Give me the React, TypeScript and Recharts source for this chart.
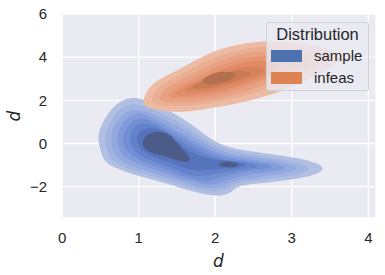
import { ScatterChart, Scatter, XAxis, YAxis, CartesianGrid, Legend, Curve } from 'recharts';

const xTicks = [0, 1, 2, 3, 4];
const yTicks = [-2, 0, 2, 4, 6];

// kde contour levels, outer -> inner, [x, y] in data units
const sampleLevels = [
  [[0.80, 2.10], [1.02, 2.15], [1.35, 1.62], [1.67, 0.97], [1.87, 0.37], [2.13, -0.19], [2.59, -0.42], [3.11, -0.68], [3.30, -0.87], [3.44, -1.11], [3.35, -1.40], [3.11, -1.63], [2.68, -1.81], [2.29, -1.94], [2.24, -2.20], [2.07, -2.52], [1.67, -2.20], [1.24, -1.72], [0.98, -1.49], [0.79, -1.26], [0.58, -0.94], [0.53, -0.65], [0.46, 0.14], [0.49, 0.74], [0.62, 1.55]],
  [[0.82, 1.81], [1.02, 1.85], [1.32, 1.39], [1.63, 0.79], [1.84, 0.23], [2.13, -0.32], [2.56, -0.56], [3.05, -0.83], [3.26, -1.11], [3.18, -1.34], [2.98, -1.53], [2.61, -1.67], [2.29, -1.81], [2.17, -2.08], [2.00, -2.31], [1.67, -2.04], [1.25, -1.57], [0.99, -1.34], [0.82, -1.11], [0.64, -0.79], [0.60, -0.51], [0.55, 0.14], [0.58, 0.69], [0.68, 1.34]],
  [[0.86, 1.57], [1.05, 1.57], [1.31, 1.16], [1.61, 0.60], [1.82, 0.09], [2.12, -0.46], [2.52, -0.65], [2.92, -0.88], [3.10, -1.11], [3.02, -1.30], [2.78, -1.44], [2.52, -1.57], [2.26, -1.71], [2.13, -1.94], [1.96, -2.13], [1.67, -1.90], [1.28, -1.44], [1.02, -1.20], [0.86, -0.97], [0.71, -0.65], [0.67, -0.37], [0.63, 0.14], [0.65, 0.65], [0.75, 1.20]],
  [[0.92, 1.39], [1.07, 1.39], [1.31, 0.97], [1.58, 0.42], [1.80, -0.05], [2.09, -0.56], [2.46, -0.74], [2.78, -0.93], [2.95, -1.11], [2.85, -1.25], [2.61, -1.34], [2.39, -1.48], [2.20, -1.62], [2.07, -1.81], [1.91, -1.94], [1.67, -1.76], [1.31, -1.30], [1.06, -1.06], [0.92, -0.83], [0.78, -0.56], [0.75, -0.28], [0.71, 0.14], [0.73, 0.60], [0.81, 1.06]],
  [[0.97, 1.16], [1.11, 1.16], [1.31, 0.79], [1.56, 0.28], [1.78, -0.19], [2.07, -0.65], [2.39, -0.79], [2.63, -0.93], [2.77, -1.06], [2.67, -1.20], [2.46, -1.25], [2.27, -1.39], [2.12, -1.53], [1.99, -1.67], [1.86, -1.76], [1.66, -1.62], [1.33, -1.16], [1.10, -0.93], [0.97, -0.69], [0.86, -0.42], [0.82, -0.19], [0.78, 0.14], [0.81, 0.56], [0.88, 0.93]],
  [[1.02, 0.93], [1.15, 0.93], [1.32, 0.65], [1.53, 0.14], [1.74, -0.32], [2.03, -0.74], [2.30, -0.83], [2.48, -0.93], [2.58, -1.06], [2.48, -1.16], [2.33, -1.20], [2.17, -1.30], [2.04, -1.39], [1.91, -1.48], [1.79, -1.53], [1.63, -1.44], [1.35, -1.02], [1.14, -0.79], [1.02, -0.56], [0.93, -0.28], [0.90, -0.05], [0.88, 0.23], [0.90, 0.56], [0.95, 0.79]],
  [[1.07, 0.69], [1.20, 0.74], [1.35, 0.51], [1.50, 0.05], [1.67, -0.42], [1.93, -0.74], [2.17, -0.79], [2.35, -0.88], [2.43, -1.02], [2.33, -1.11], [2.17, -1.16], [2.00, -1.20], [1.86, -1.25], [1.74, -1.25], [1.59, -1.16], [1.39, -0.83], [1.19, -0.65], [1.08, -0.42], [1.01, -0.19], [0.98, 0.05], [0.97, 0.28], [1.01, 0.56]],
  [[1.07, 0.30], [1.15, 0.50], [1.24, 0.55], [1.36, 0.50], [1.45, 0.28], [1.55, -0.19], [1.69, -0.69], [1.65, -0.90], [1.50, -0.81], [1.37, -0.58], [1.15, -0.48], [1.03, -0.09]],
  [[2.05, -0.87], [2.22, -0.81], [2.35, -1.02], [2.17, -1.13], [2.03, -1.03]],
];
const sampleColors = ['#B1C0E2', '#A2B4E0', '#92A8DE', '#829BDA', '#728FD4', '#6382CB', '#5674BC', '#4C5B88', '#4C5B88'];

const infeasLevels = [
  [[1.05, 2.00], [1.14, 2.70], [1.37, 3.16], [1.63, 3.62], [1.97, 4.32], [2.42, 4.69], [2.76, 4.78], [3.20, 4.64], [3.51, 4.32], [3.66, 3.98], [3.55, 3.60], [3.28, 3.05], [2.85, 2.40], [2.42, 1.93], [1.97, 1.66], [1.61, 1.43], [1.28, 1.52], [1.07, 1.70]],
  [[1.15, 1.99], [1.24, 2.59], [1.44, 3.01], [1.67, 3.43], [2.00, 4.07], [2.42, 4.44], [2.75, 4.54], [3.11, 4.44], [3.35, 4.21], [3.46, 3.94], [3.35, 3.61], [3.11, 3.15], [2.78, 2.64], [2.39, 2.18], [1.97, 1.90], [1.61, 1.71], [1.31, 1.76], [1.18, 1.85]],
  [[1.25, 2.08], [1.33, 2.50], [1.52, 2.92], [1.74, 3.29], [2.03, 3.84], [2.39, 4.21], [2.69, 4.31], [2.98, 4.26], [3.19, 4.07], [3.27, 3.84], [3.16, 3.56], [2.95, 3.19], [2.65, 2.73], [2.33, 2.31], [1.97, 2.04], [1.65, 1.90], [1.37, 1.90], [1.28, 1.99]],
  [[1.36, 2.18], [1.44, 2.50], [1.61, 2.82], [1.80, 3.15], [2.05, 3.61], [2.37, 3.98], [2.63, 4.07], [2.85, 4.03], [3.02, 3.89], [3.08, 3.70], [2.97, 3.47], [2.78, 3.15], [2.52, 2.78], [2.26, 2.45], [1.96, 2.22], [1.67, 2.08], [1.45, 2.08]],
  [[1.46, 2.27], [1.54, 2.55], [1.70, 2.82], [1.87, 3.06], [2.08, 3.43], [2.33, 3.75], [2.55, 3.84], [2.72, 3.80], [2.85, 3.66], [2.87, 3.52], [2.75, 3.29], [2.56, 3.01], [2.33, 2.69], [2.09, 2.45], [1.87, 2.31], [1.65, 2.22], [1.52, 2.22]],
  [[1.58, 2.41], [1.66, 2.64], [1.80, 2.87], [1.95, 3.06], [2.12, 3.29], [2.30, 3.52], [2.46, 3.56], [2.59, 3.52], [2.67, 3.43], [2.61, 3.24], [2.48, 3.06], [2.30, 2.82], [2.09, 2.59], [1.87, 2.45], [1.70, 2.41]],
  [[1.68, 2.58], [1.76, 2.79], [1.88, 2.97], [2.01, 3.16], [2.17, 3.31], [2.33, 3.40], [2.44, 3.35], [2.48, 3.19], [2.37, 3.05], [2.22, 2.86], [2.04, 2.68], [1.86, 2.57], [1.74, 2.54]],
  [[1.81, 2.92], [1.93, 3.21], [2.09, 3.35], [2.25, 3.31], [2.28, 3.10], [2.14, 2.86], [1.97, 2.71], [1.85, 2.77]],
];
const infeasColors = ['#EDBBA3', '#EAAE92', '#E8A283', '#E59674', '#E08B65', '#D6825B', '#C87A53', '#B2704F'];

const legendNames = ['sample', 'infeas'];
const legendColors = ['#4C72B0', '#DD8452'];

const font = "'Liberation Sans', Arial, sans-serif";
const textColor = '#262626';

const fmt = (v: number) => (v < 0 ? '\u2212' + Math.abs(v) : String(v));

const contour = (poly: number[][], color: string, key: string) => (
  <Scatter
    key={key}
    data={poly.map(([x, y]) => ({ x, y }))}
    isAnimationActive={false}
    lineType="joint"
    shape={() => <g />}
    line={(p: any) => <Curve points={p.points} type="basisClosed" fill={color} stroke="none" />}
  />
);

const LegendBox = () => (
  <div
    style={{
      position: 'relative',
      boxSizing: 'border-box',
      width: 103,
      height: 69,
      background: 'rgba(234,234,242,0.8)',
      border: '1px solid rgba(204,204,204,0.8)',
      borderRadius: 3,
      fontFamily: font,
      color: textColor,
    }}
  >
    <div style={{ position: 'absolute', left: 0, width: 101, top: 2.5, textAlign: 'center', fontSize: 16.5, lineHeight: '16.5px' }}>
      Distribution
    </div>
    {legendNames.map((name, i) => (
      <div key={name}>
        <div style={{ position: 'absolute', left: 4, top: 26.5 + i * 22, width: 31, height: 12.5, background: legendColors[i] }} />
        <div style={{ position: 'absolute', left: 47, top: 24.7 + i * 22, fontSize: 15, lineHeight: '15px', whiteSpace: 'nowrap' }}>
          {name}
        </div>
      </div>
    ))}
  </div>
);

const App = () => {
  return (
    <div style={{ position: 'absolute', left: 0, top: 0 }}>
      <ScatterChart width={385} height={275} margin={{ top: 14, right: 9, bottom: 0, left: 0 }}>
        <CartesianGrid fill="#EAEAF2" stroke="#FFFFFF" strokeWidth={1.3} />
        <XAxis
          type="number"
          dataKey="x"
          domain={[-0.015, 4.1]}
          allowDataOverflow
          ticks={xTicks}
          tickFormatter={fmt}
          height={57}
          axisLine={false}
          tickLine={false}
          tickSize={6}
          tickMargin={8}
          tick={{ fill: textColor, fontSize: 15, fontFamily: font }}
          label={{
            content: (p: any) => (
              <text x={p.viewBox.x + p.viewBox.width / 2} y={267} textAnchor="middle" fill={textColor}
                fontSize={17} fontStyle="italic" fontFamily="'DejaVu Sans', sans-serif">d</text>
            ),
          }}
        />
        <YAxis
          type="number"
          dataKey="y"
          domain={[-3.45, 6]}
          allowDataOverflow
          ticks={yTicks}
          tickFormatter={fmt}
          width={61}
          axisLine={false}
          tickLine={false}
          tickSize={6}
          tickMargin={8}
          tick={{ fill: textColor, fontSize: 15, fontFamily: font }}
          label={{
            content: () => (
              <text x={20} y={116} transform="rotate(-90 20 116)" textAnchor="middle" fill={textColor}
                fontSize={17} fontStyle="italic" fontFamily="'DejaVu Sans', sans-serif">d</text>
            ),
          }}
        />
        {sampleLevels.map((poly, i) => contour(poly, sampleColors[i], 's' + i))}
        {infeasLevels.map((poly, i) => contour(poly, infeasColors[i], 'f' + i))}
        <Legend
          layout="vertical"
          align="center"
          verticalAlign="middle"
          content={() => <LegendBox />}
          wrapperStyle={{ left: 266, top: 22, width: 103, height: 69 }}
        />
      </ScatterChart>
    </div>
  );
};

export default App;
